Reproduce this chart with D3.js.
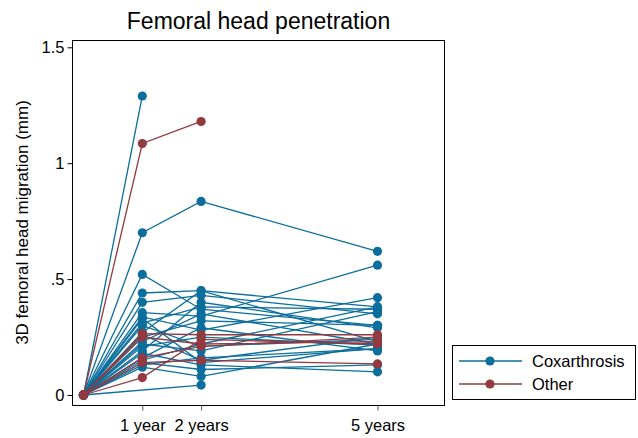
<!DOCTYPE html>
<html><head><meta charset="utf-8">
<script src="https://cdn.jsdelivr.net/npm/d3@7"></script>
<style>body{margin:0;background:#fff}svg{display:block}text{font-family:"Liberation Sans",Arial,sans-serif}</style>
</head><body><svg id="c" width="638" height="438"></svg>
<script>
const times = [0, 1, 2, 5];
const xTickValues = [1, 2, 5];
const xTickLabels = ["1 year", "2 years", "5 years"];
const yTickValues = [0, 0.5, 1, 1.5];
const yTickLabels = ["0", ".5", "1", "1.5"];
const groups = ["Coxarthrosis", "Other"];
const coxarthrosis = [
  [0, 1.29, null, null],
  [0, 0.70, 0.835, 0.62],
  [0, 0.52, 0.37, 0.30],
  [0, 0.44, 0.45, 0.38],
  [0, 0.40, 0.43, 0.35],
  [0, 0.355, 0.34, 0.56],
  [0, 0.337, 0.28, 0.42],
  [0, 0.31, 0.38, 0.37],
  [0, 0.27, 0.45, 0.23],
  [0, 0.25, 0.32, 0.30],
  [0, 0.22, 0.19, 0.36],
  [0, 0.21, 0.25, 0.215],
  [0, 0.18, 0.13, 0.10],
  [0, 0.16, 0.29, 0.19],
  [0, 0.14, 0.11, 0.13],
  [0, 0.13, 0.16, 0.20],
  [0, 0.12, 0.08, 0.22],
  [0, null, 0.043, null],
  [0, 0.30, 0.21, 0.24],
  [0, 0.23, 0.35, 0.22],
  [0, 0.19, 0.40, 0.29],
  [0, 0.26, 0.15, 0.25],
  [0, 0.15, 0.22, 0.38],
  [0, 0.33, 0.14, 0.20]
];
const other = [
  [0, 1.085, 1.18, null],
  [0, 0.265, 0.26, 0.26],
  [0, 0.25, 0.22, 0.23],
  [0, 0.16, 0.21, 0.25],
  [0, 0.14, 0.15, 0.134],
  [0, 0.075, 0.24, 0.22]
];
const colors = ["#0b6e9c", "#923a40"];

const svg = d3.select("#c");
const L = 72.5, R = 444.5, T = 40.5, B = 405.5;
const x = d3.scaleLinear().domain([0, 5]).range([83.5, 377.5]);
const y = d3.scaleLinear().domain([0, 1.5]).range([395, 47.3]);

svg.append("rect").attr("x", L).attr("y", T).attr("width", R - L).attr("height", B - T)
  .attr("fill", "#fff").attr("stroke", "#000").attr("stroke-width", 1);

// axes
const yAxis = d3.axisLeft(y).tickValues(yTickValues).tickFormat((d, i) => yTickLabels[i]).tickSize(5).tickPadding(3);
const gy = svg.append("g").attr("transform", `translate(${L},0)`).call(yAxis);
gy.select(".domain").remove();
gy.selectAll("text").attr("font-size", 16.5).attr("fill", "#000");
gy.selectAll("line").attr("stroke", "#000");

const xAxis = d3.axisBottom(x).tickValues(xTickValues).tickFormat((d, i) => xTickLabels[i]).tickSize(5).tickPadding(9);
const gx = svg.append("g").attr("transform", `translate(0,${B})`).call(xAxis);
gx.select(".domain").remove();
gx.selectAll("text").attr("font-size", 16.5).attr("fill", "#000");
gx.selectAll("line").attr("stroke", "#555");

// title
svg.append("text").attr("x", (L + R) / 2).attr("y", 29).attr("text-anchor", "middle")
  .attr("font-size", 23).text("Femoral head penetration");
svg.append("text").attr("transform", `translate(28,${(40 + 405) / 2}) rotate(-90)`)
  .attr("text-anchor", "middle").attr("font-size", 17).text("3D femoral head migration (mm)");

function drawGroup(data, color) {
  const g = svg.append("g");
  data.forEach(row => {
    const pts = times.map((t, i) => ({ t, v: row[i] })).filter(p => p.v !== null);
    const line = d3.line().x(p => x(p.t)).y(p => y(p.v));
    g.append("path").attr("d", line(pts)).attr("fill", "none").attr("stroke", color).attr("stroke-width", 1.3);
    g.selectAll(null).data(pts).enter().append("circle")
      .attr("cx", p => x(p.t)).attr("cy", p => y(p.v)).attr("r", 4.6).attr("fill", color);
  });
}
drawGroup(coxarthrosis, colors[0]);
drawGroup(other, colors[1]);

// legend
const lg = svg.append("g");
lg.append("rect").attr("x", 452.5).attr("y", 345.5).attr("width", 183).attr("height", 54)
  .attr("fill", "#fff").attr("stroke", "#000");
groups.forEach((name, i) => {
  const yy = 361 + i * 23;
  lg.append("line").attr("x1", 459).attr("x2", 522).attr("y1", yy).attr("y2", yy).attr("stroke", colors[i]).attr("stroke-width", 1.3);
  lg.append("circle").attr("cx", 490).attr("cy", yy).attr("r", 4.6).attr("fill", colors[i]);
  lg.append("text").attr("x", 532).attr("y", yy + 6).attr("font-size", 16.5).text(name);
});
</script></body></html>
